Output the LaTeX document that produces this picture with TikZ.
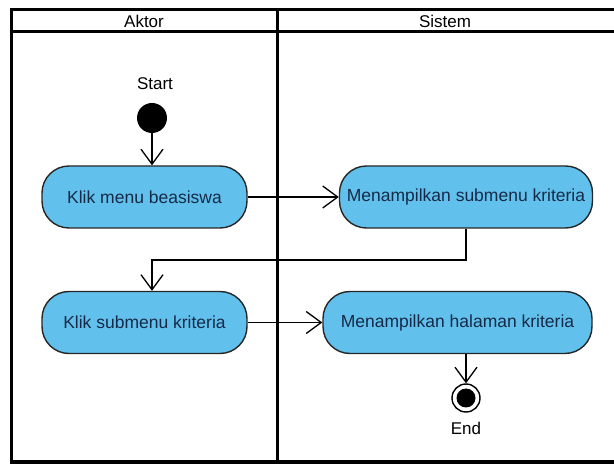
\documentclass[tikz,border=0pt]{standalone}
\usepackage{fontspec}
\setmainfont{Liberation Sans}
\usetikzlibrary{arrows.meta}
\definecolor{ActFill}{RGB}{98,193,236}
\definecolor{ActText}{RGB}{22,42,72}
\tikzstyle{ActNode}=[rectangle, rounded corners=27pt, draw=black!85, line width=1.4pt, fill=ActFill, text=ActText, font=\fontsize{17.5}{20}\selectfont, minimum height=62pt]
\tikzstyle{StartNode}=[circle, fill=black, inner sep=0pt, minimum size=30pt]
\tikzstyle{EndNode}=[circle, draw=black, line width=1.4pt, fill=white, inner sep=0pt, minimum size=28pt]
\tikzstyle{EndDot}=[circle, fill=black, inner sep=0pt, minimum size=19pt]
\tikzstyle{LabelText}=[font=\fontsize{17}{20}\selectfont, inner sep=0pt]
\tikzstyle{FlowEdge}=[-{Straight Barb[length=15pt,width=22pt]}, line width=1.3pt]
\tikzstyle{LaneLine}=[line width=3pt]

\begin{document}
\begin{tikzpicture}[x=1pt, y=-1pt]
\useasboundingbox (0,0) rectangle (614,465);

% swimlanes
\draw[LaneLine] (614,10) -- (11,10) -- (11,462) -- (614,462);
\draw[LaneLine] (11,32) -- (614,32);
\draw[LaneLine] (277,10) -- (277,462);
\node[LabelText](Aktor) at (144,21) {Aktor};
\node[LabelText](Sistem) at (445,21) {Sistem};

% nodes
\node[StartNode](Start) at (152,118) {};
\node[LabelText](StartLbl) at (155,84) {Start};
\node[ActNode, minimum width=205pt](KlikMenu) at (144.5,197) {Klik menu beasiswa};
\node[ActNode, minimum width=253pt](TampilSub) at (466,197) {Menampilkan submenu kriteria};
\node[ActNode, minimum width=205pt](KlikSub) at (144.5,322.5) {Klik submenu kriteria};
\node[ActNode, minimum width=269pt](TampilHal) at (457.5,322.5) {Menampilkan halaman kriteria};
\node[EndNode](End) at (466,398) {};
\node[EndDot](EndIn) at (End) {};
\node[LabelText](EndLbl) at (466,428) {End};
\coordinate (Turn) at (152,260);

% flows
\draw[FlowEdge](Start) -- (Start |- KlikMenu.north);
\draw[FlowEdge](KlikMenu) -- (TampilSub);
\draw[FlowEdge](TampilSub.south) |- (Turn) -- (Turn |- KlikSub.north);
\draw[FlowEdge](KlikSub) -- (TampilHal);
\draw[FlowEdge](End |- TampilHal.south) -- (End);
\end{tikzpicture}
\end{document}
